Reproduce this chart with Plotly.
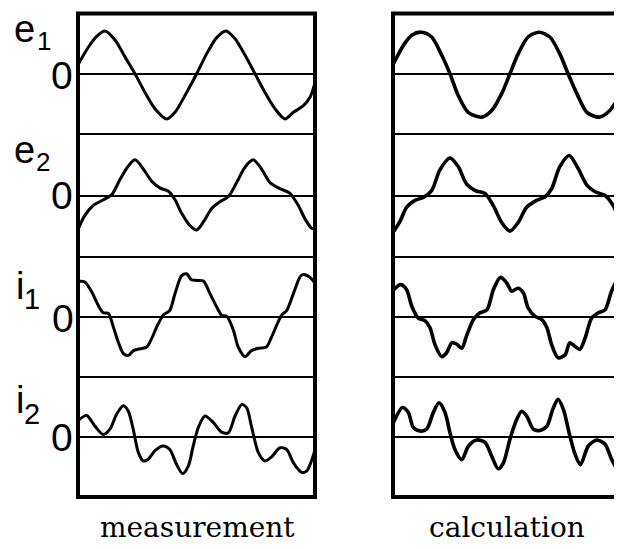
import plotly.graph_objects as go

# page is 622x549; the html body adds an 8px margin, so the figure is 8px smaller
# and every page-pixel position is shifted by OFF.
OFF = 8
W, H = 622 - OFF, 549 - OFF

# ---------------- data (time in ms, values normalised to strip half-height) -------------
# measurement panel
meas_e1_t = [0, 1.72, 3.11, 4.5, 6.17, 7.83, 9.5, 11.17, 12.83, 14.78, 16.17, 17.83, 19.78, 21.44, 23.11, 24.67, 26.17, 27.83, 29.5, 31.17, 32.83, 34.5, 35.9, 37.56, 38.67, 39.5]
meas_e1_v = [0.15, 0.44, 0.62, 0.71, 0.56, 0.28, 0.0, -0.31, -0.58, -0.75, -0.64, -0.36, 0.0, 0.33, 0.6, 0.71, 0.58, 0.31, 0.0, -0.31, -0.58, -0.75, -0.64, -0.53, -0.39, -0.15]

meas_e2_t = [0, 1.17, 2.56, 4.22, 5.6, 7.0, 8.39, 9.5, 10.9, 12.3, 13.7, 15.06, 16.17, 17.28, 18.67, 19.78, 20.9, 22.28, 23.67, 25.06, 26.44, 27.83, 29.2, 30.6, 32.0, 33.67, 35.3, 36.7, 37.83, 38.9, 39.5]
meas_e2_v = [-0.55, -0.32, -0.16, -0.07, 0.01, 0.26, 0.48, 0.58, 0.43, 0.23, 0.12, 0.07, -0.07, -0.29, -0.49, -0.56, -0.43, -0.21, -0.1, -0.02, 0.21, 0.46, 0.58, 0.43, 0.21, 0.11, 0.04, -0.16, -0.38, -0.53, -0.55]

meas_i1_t = [0, 1.17, 2.28, 3.39, 4.22, 5.06, 5.9, 6.72, 7.56, 8.39, 9.22, 10.33, 11.44, 12.28, 13.1, 14.2, 15.3, 16.17, 17.28, 18.1, 18.9, 19.8, 20.9, 22.0, 23.1, 23.94, 24.8, 25.9, 26.7, 27.83, 28.9, 30.06, 31.4, 32.28, 33.1, 33.94, 34.8, 35.9, 37.0, 37.56, 38.67, 39.5]
meas_i1_v = [0.6, 0.58, 0.42, 0.19, 0.07, 0.06, -0.17, -0.42, -0.61, -0.64, -0.56, -0.53, -0.5, -0.36, -0.17, 0.03, 0.11, 0.39, 0.69, 0.72, 0.62, 0.61, 0.6, 0.39, 0.17, 0.03, 0.01, -0.22, -0.5, -0.66, -0.56, -0.52, -0.5, -0.33, -0.14, 0.03, 0.11, 0.39, 0.67, 0.71, 0.66, 0.56]

meas_i2_t = [0, 1.44, 2.83, 4.22, 5.33, 6.44, 7.56, 8.39, 9.2, 10.06, 10.9, 11.7, 12.8, 14.2, 15.3, 16.44, 17.44, 18.4, 19.2, 20.06, 21.17, 22.56, 23.94, 25.06, 26.17, 27.28, 28.1, 28.9, 30.06, 31.17, 32.28, 33.67, 34.8, 35.9, 37.3, 38.1, 38.9, 39.5]
meas_i2_v = [0.27, 0.36, 0.18, 0.04, 0.13, 0.38, 0.52, 0.43, 0.13, -0.26, -0.4, -0.37, -0.23, -0.15, -0.21, -0.46, -0.61, -0.48, -0.15, 0.16, 0.35, 0.24, 0.08, 0.07, 0.35, 0.54, 0.49, 0.18, -0.26, -0.4, -0.33, -0.18, -0.21, -0.43, -0.59, -0.57, -0.4, -0.21]

# calculation panel
calc_e1_t = [0, 1.76, 3.18, 4.88, 6.58, 8.28, 9.7, 11.1, 12.8, 15.1, 16.8, 18.5, 19.9, 21.3, 23.0, 24.9, 26.7, 28.4, 29.8, 31.3, 33.0, 35.1, 36.9, 38.4, 39.0]
calc_e1_v = [0.15, 0.47, 0.64, 0.69, 0.61, 0.31, 0.0, -0.36, -0.64, -0.72, -0.61, -0.33, 0.0, 0.33, 0.61, 0.69, 0.61, 0.33, 0.0, -0.33, -0.64, -0.72, -0.61, -0.39, -0.28]

calc_e2_t = [0, 1.19, 2.33, 3.74, 5.16, 6.58, 8.0, 9.7, 11.1, 12.5, 14.0, 15.7, 17.1, 18.5, 19.9, 21.3, 22.75, 24.45, 25.9, 27.0, 28.4, 30.0, 31.5, 33.0, 34.4, 36.1, 37.5, 39.0]
calc_e2_v = [-0.6, -0.42, -0.19, -0.08, -0.03, 0.08, 0.42, 0.61, 0.47, 0.19, 0.08, 0.03, -0.17, -0.44, -0.58, -0.44, -0.19, -0.08, -0.02, 0.11, 0.47, 0.65, 0.44, 0.17, 0.06, 0.0, -0.17, -0.53]

calc_i1_t = [0, 1.3, 2.3, 3.2, 4.3, 5.45, 6.3, 7.15, 8.28, 9.1, 10.0, 10.8, 11.7, 12.5, 13.7, 14.8, 16.0, 17.1, 18.3, 19.35, 20.2, 21.3, 22.2, 23.0, 24.2, 25.3, 26.2, 27.0, 28.1, 29.3, 30.1, 31.0, 31.8, 32.7, 33.8, 34.95, 36.1, 37.2, 38.4, 39.0]
calc_i1_v = [0.44, 0.54, 0.46, 0.18, -0.02, -0.06, -0.18, -0.46, -0.66, -0.6, -0.43, -0.45, -0.52, -0.32, -0.04, 0.07, 0.12, 0.46, 0.66, 0.57, 0.43, 0.48, 0.4, 0.15, 0.01, -0.04, -0.18, -0.46, -0.68, -0.63, -0.43, -0.49, -0.54, -0.35, -0.02, 0.07, 0.12, 0.43, 0.65, 0.68]

calc_i2_t = [0, 1.6, 2.6, 3.46, 4.6, 5.73, 6.87, 7.83, 8.85, 9.7, 10.55, 11.7, 12.85, 14.24, 15.66, 16.8, 17.9, 18.8, 19.9, 21.05, 21.9, 22.75, 23.9, 25.0, 26.2, 27.2, 28.1, 29.0, 30.1, 31.0, 31.9, 33.25, 34.7, 36.1, 37.2, 38.2, 39.0]
calc_i2_v = [0.22, 0.49, 0.41, 0.16, 0.1, 0.13, 0.41, 0.57, 0.41, 0.07, -0.21, -0.38, -0.15, -0.05, -0.09, -0.32, -0.53, -0.43, -0.04, 0.29, 0.43, 0.35, 0.13, 0.11, 0.18, 0.46, 0.63, 0.46, 0.02, -0.29, -0.46, -0.15, -0.05, -0.12, -0.37, -0.53, -0.32]

signal_names = [("e", "1"), ("e", "2"), ("i", "1"), ("i", "2")]
panel_titles = ["measurement", "calculation"]


def px(x):  # page pixel x -> paper fraction
    return (x - OFF) / W


def py(y):  # page pixel y (from top) -> paper fraction
    return 1 - (y - OFF) / H


# ---------------- layout geometry (page pixels) ----------------
panels = [  # left px, right px, time span shown, trace width
    (78, 315, 39.5, 3.0),
    (393, 622, 38.98, 3.6),
]
strips = [(13.5, 134), (134, 257), (257, 377), (377, 497)]
series = [
    [(meas_e1_t, meas_e1_v), (meas_e2_t, meas_e2_v), (meas_i1_t, meas_i1_v), (meas_i2_t, meas_i2_v)],
    [(calc_e1_t, calc_e1_v), (calc_e2_t, calc_e2_v), (calc_i1_t, calc_i1_v), (calc_i2_t, calc_i2_v)],
]

fig = go.Figure()
layout = {}

for p, (x0, x1, tmax, lw) in enumerate(panels):
    for s, (y0, y1) in enumerate(strips):
        n = p * 4 + s + 1
        sfx = "" if n == 1 else str(n)
        t, v = series[p][s]
        fig.add_trace(go.Scatter(
            x=t, y=v, mode="lines",
            line=dict(color="black", width=lw, shape="spline", smoothing=0.8),
            xaxis="x" + sfx, yaxis="y" + sfx, showlegend=False, hoverinfo="skip",
        ))
        layout["xaxis" + sfx] = dict(
            domain=[px(x0), min(1.0, px(x1))], range=[0, tmax], anchor="y" + sfx,
            showgrid=False, zeroline=False, showticklabels=False, showline=False, ticks="",
        )
        layout["yaxis" + sfx] = dict(
            domain=[py(y1), py(y0)], range=[-1, 1], anchor="x" + sfx,
            showgrid=False, showticklabels=False, showline=False, ticks="",
            zeroline=True, zerolinecolor="black", zerolinewidth=1.8,
        )

shapes = []
for p, (x0, x1, tmax, lw) in enumerate(panels):
    right = x1 if p == 0 else 632
    for (y0, y1) in strips[:-1]:
        shapes.append(dict(type="line", xref="paper", yref="paper",
                           x0=px(x0), x1=px(right), y0=py(y1), y1=py(y1),
                           line=dict(color="black", width=2.2)))
    shapes.append(dict(type="rect", xref="paper", yref="paper",
                       x0=px(x0), x1=px(right), y0=py(497), y1=py(13.5),
                       line=dict(color="black", width=4)))

annotations = []
label_pos = [  # letter center(x,y), subscript center(x,y), zero center(x,y)  (page px)
    ((24, 29.5), (43.5, 41), (62, 75)),
    ((24, 150), (42.5, 162.5), (62, 195.5)),
    ((19.5, 286), (32.5, 298.5), (62.5, 318)),
    ((19.5, 400), (32.5, 414), (62, 437)),
]
for (letter, sub), (lp, sp, zp) in zip(signal_names, label_pos):
    subsize = 26 if letter == "e" else 29
    for txt, (x, y), size in ((letter, lp, 38), (sub, sp, subsize), ("0", zp, 39)):
        annotations.append(dict(text=txt, x=px(x), y=py(y), xref="paper", yref="paper",
                                xanchor="center", yanchor="middle", showarrow=False,
                                font=dict(family="Liberation Sans, Arial, sans-serif", size=size, color="black")))

for title, cx in zip(panel_titles, (197.5, 506.5)):
    annotations.append(dict(text=title, x=px(cx), y=py(527), xref="paper", yref="paper",
                            xanchor="center", yanchor="middle", showarrow=False,
                            font=dict(family="DejaVu Serif, serif", size=28, color="black")))

fig.update_layout(
    width=W, height=H, margin=dict(l=0, r=0, t=0, b=0),
    paper_bgcolor="white", plot_bgcolor="white",
    shapes=shapes, annotations=annotations, **layout,
)

fig.write_html("out.html")
